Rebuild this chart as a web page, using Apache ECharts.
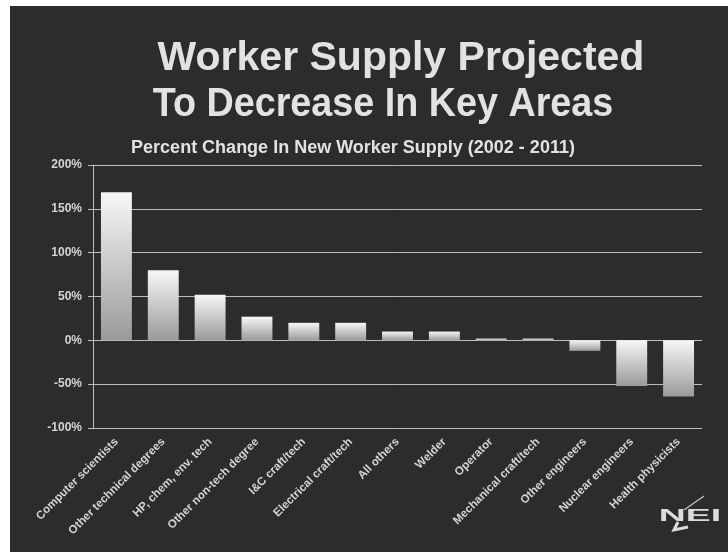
<!DOCTYPE html>
<html><head><meta charset="utf-8">
<script src="https://cdn.jsdelivr.net/npm/echarts@6/dist/echarts.min.js"></script>
<style>html,body{margin:0;padding:0;background:#fff}#c{width:728px;height:552px}</style>
</head><body><div id="c"></div>
<script>
const categories = ["Computer scientists","Other technical degrees","HP, chem, env. tech","Other non-tech degree","I&C craft/tech","Electrical craft/tech","All others","Welder","Operator","Mechanical craft/tech","Other engineers","Nuclear engineers","Health physicists"];
const values = [169, 80, 52, 27, 20, 20, 10, 10, 2, 2, -12, -52, -64];
const yTicks = {min: -100, max: 200, interval: 50};
const titleLines = ["Worker Supply Projected", "To Decrease In Key Areas"];
const subtitle = "Percent Change In New Worker Supply (2002 - 2011)";
const logoText = "NEI";

const FF = '"Liberation Sans", Arial, sans-serif';
const chart = echarts.init(document.getElementById('c'));
chart.setOption({
  backgroundColor: '#ffffff',
  graphic: [
    {type:'rect', left:10, top:6, shape:{width:718, height:546}, style:{fill:'#2c2c2c'}, z:-10},
    {type:'text', x:401, y:59, style:{text:titleLines[0], fill:'#e2e2e2', align:'center', verticalAlign:'middle', font:'bold 41px ' + FF}},
    {type:'text', x:383, y:105, scaleX:0.92, style:{text:titleLines[1], fill:'#e2e2e2', align:'center', verticalAlign:'middle', font:'bold 41px ' + FF}},
    {type:'text', x:353, y:148, style:{text:subtitle, fill:'#e2e2e2', align:'center', verticalAlign:'middle', font:'bold 18px ' + FF}},
    {type:'text', x:690, y:516, scaleX:2.2, style:{text:logoText, fill:'#dcdcdc', align:'center', verticalAlign:'middle', font:'bold 17px ' + FF}},
    {type:'polyline', shape:{points:[[704,496],[684,510]]}, style:{stroke:'#bbbbbb', lineWidth:1.5}},
    {type:'polyline', shape:{points:[[678,522],[674,530],[688,527]]}, style:{stroke:'#dcdcdc', lineWidth:3, fill:null}}
  ],
  grid: {left: 93, right: 26, top: 165, bottom: 124},
  xAxis: {
    type:'category', data: categories,
    axisLine:{show:false, onZero:false}, axisTick:{show:false},
    axisLabel:{rotate:45, interval:0, color:'#d4d4d4', fontSize:11.5, fontWeight:'bold', fontFamily:FF, margin:12}
  },
  yAxis: {
    type:'value', min: yTicks.min, max: yTicks.max, interval: yTicks.interval,
    axisLine:{show:true, lineStyle:{color:'#bdbdbd', width:1}},
    axisTick:{show:true, inside:false, length:5, lineStyle:{color:'#bdbdbd'}},
    axisLabel:{formatter:'{value}%', color:'#d4d4d4', fontSize:12, fontWeight:'bold', fontFamily:FF, margin:11},
    splitLine:{show:true, lineStyle:{color:'#bdbdbd', width:1}}
  },
  series: [{
    type:'bar', data: values, barWidth:'66%', animation:false,
    itemStyle:{color: new echarts.graphic.LinearGradient(0,0,0,1,[{offset:0,color:'#f7f7f7'},{offset:1,color:'#9a9a9a'}])}
  }]
});
</script></body></html>
